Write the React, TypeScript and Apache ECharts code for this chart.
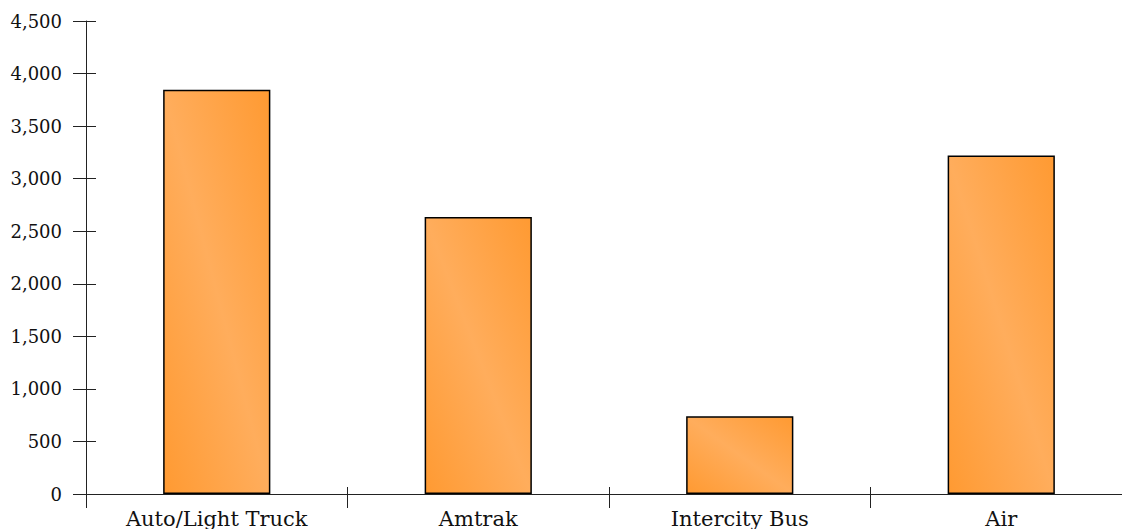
import React, { useEffect, useRef } from "react";
import * as echarts from "echarts";

const categories = ["Auto/Light Truck", "Amtrak", "Intercity Bus", "Air"];
const values = [3845, 2635, 740, 3220];
const yTicks = { min: 0, max: 4500, interval: 500 };

export default function App() {
  const ref = useRef<HTMLDivElement>(null);
  useEffect(() => {
    if (!ref.current) return;
    const chart = echarts.init(ref.current, null, { renderer: "svg" });
    const font = "DejaVu Serif";
    const axisColor = "#222";
    const common = {
      axisLine: { show: true, lineStyle: { color: axisColor, width: 1 } },
      splitLine: { show: false },
    };
    chart.setOption({
      animation: false,
      backgroundColor: "#fff",
      grid: { left: 86, right: 18, top: 21, bottom: 35, containLabel: false },
      xAxis: [
        {
          type: "category",
          data: categories,
          ...common,
          axisTick: { show: true, length: 14, inside: false, lineStyle: { color: axisColor } },
          axisLabel: { color: "#111", fontFamily: font, fontSize: 21, margin: 14 },
        },
        {
          type: "category",
          data: categories,
          position: "bottom",
          axisLine: { show: false },
          axisTick: { show: true, length: 7, inside: true, lineStyle: { color: axisColor } },
          axisLabel: { show: false },
          splitLine: { show: false },
        },
      ],
      yAxis: [
        {
          type: "value",
          ...yTicks,
          ...common,
          axisTick: { show: true, length: 13, inside: false, lineStyle: { color: axisColor } },
          axisLabel: {
            color: "#111",
            fontFamily: font,
            fontSize: 18,
            margin: 24,
            formatter: (v: number) => v.toLocaleString("en-US"),
          },
        },
        {
          type: "value",
          ...yTicks,
          position: "left",
          axisLine: { show: false },
          axisTick: { show: true, length: 10, inside: true, lineStyle: { color: axisColor } },
          axisLabel: { show: false },
          splitLine: { show: false },
        },
      ],
      series: [
        {
          type: "bar",
          data: values,
          barWidth: "41%",
          itemStyle: {
            borderColor: "#000",
            borderWidth: 1.5,
            color: new echarts.graphic.LinearGradient(0, 1, 1, 0, [
              { offset: 0, color: "#FF9A32" },
              { offset: 0.5, color: "#FFAD5C" },
              { offset: 1, color: "#FF9A32" },
            ]),
          },
        },
      ],
    });
    return () => chart.dispose();
  }, []);
  return (
    <div
      style={{
        position: "fixed",
        left: 0,
        top: 0,
        width: 1122,
        height: 529,
        overflow: "hidden",
        background: "#fff",
      }}
    >
      <div ref={ref} style={{ width: 1150, height: 529 }} />
    </div>
  );
}
